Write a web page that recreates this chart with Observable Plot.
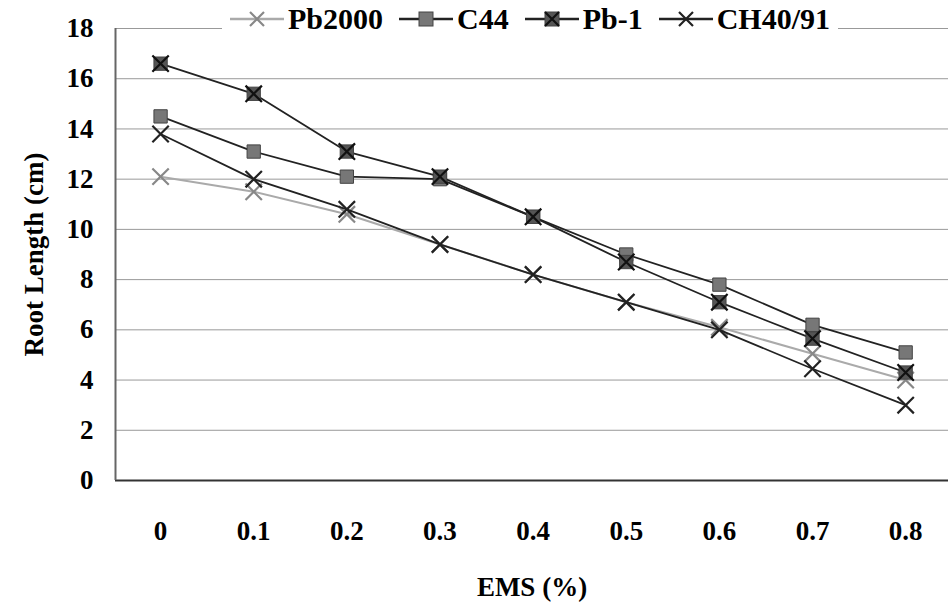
<!DOCTYPE html>
<html><head><meta charset="utf-8">
<script src="https://cdn.jsdelivr.net/npm/d3@7"></script>
<script src="https://cdn.jsdelivr.net/npm/@observablehq/plot@0.6"></script>
<style>
body{margin:0;background:#fff;font-family:"Liberation Serif","DejaVu Serif",serif;}
#wrap{position:relative;width:948px;height:607px;}
#chart svg text{font-family:"Liberation Serif","DejaVu Serif",serif !important;font-weight:bold;font-size:27px;}
#legend{position:absolute;top:2px;left:222px;background:#fff;font-weight:bold;font-size:30px;display:flex;gap:16px;align-items:center;padding:0 8px;font-family:"Liberation Serif","DejaVu Serif",serif;}
#legend span{display:flex;align-items:center;gap:4px;}
</style></head><body>
<div id="wrap"><div id="chart"></div>
<div id="legend"></div></div>
<script>
const ems = [0, 0.1, 0.2, 0.3, 0.4, 0.5, 0.6, 0.7, 0.8];
const pb2000 = [12.1, 11.5, 10.6, 9.4, 8.2, 7.1, 6.1, 5.05, 4.0];
const c44 = [14.5, 13.1, 12.1, 12.0, 10.5, 9.0, 7.8, 6.2, 5.1];
const pb1 = [16.6, 15.4, 13.1, 12.1, 10.5, 8.7, 7.1, 5.65, 4.3];
const ch4091 = [13.8, 12.0, 10.8, 9.4, 8.2, 7.1, 6.0, 4.45, 3.0];
const yTicks = [0, 2, 4, 6, 8, 10, 12, 14, 16, 18];

const series = [
  {name: "Pb2000", values: pb2000, line: "#aaa", sq: null, x: "#888"},
  {name: "C44", values: c44, line: "#222", sq: "#777", x: null},
  {name: "Pb-1", values: pb1, line: "#222", sq: "#555", x: "#111"},
  {name: "CH40/91", values: ch4091, line: "#222", sq: null, x: "#222"}
];

const marks = [
  Plot.ruleY(yTicks.slice(1), {stroke: "#999", strokeWidth: 1}),
  Plot.ruleY([0], {stroke: "#333", strokeWidth: 2}),
  Plot.ruleX([-0.0484], {stroke: "#666", strokeWidth: 2})
];
for (const s of series) {
  const data = ems.map((e, i) => ({ems: e, v: s.values[i]}));
  marks.push(Plot.line(data, {x: "ems", y: "v", stroke: s.line, strokeWidth: s.name === "Pb2000" ? 2 : 1.8}));
  if (s.sq) marks.push(Plot.dot(data, {x: "ems", y: "v", symbol: "square", fill: s.sq, r: 7.5, stroke: "#444", strokeWidth: 1}));
  if (s.x) marks.push(Plot.dot(data, {x: "ems", y: "v", symbol: "times", stroke: s.x, r: 7.5, strokeWidth: 2.2}));
}

const chart = Plot.plot({
  width: 948, height: 607,
  marginLeft: 115, marginRight: 0, marginTop: 28, marginBottom: 127,
  style: {background: "#fff"},
  x: {domain: [-0.0484, 0.846], ticks: ems, tickFormat: d => String(d), tickSize: 0, tickPadding: 40, label: "EMS (%)", labelAnchor: "center", labelOffset: 115, labelArrow: "none"},
  y: {domain: [0, 18], ticks: yTicks, tickSize: 0, tickPadding: 22, label: "Root Length (cm)", labelAnchor: "center", labelOffset: 92, labelArrow: "none"},
  marks
});
d3.select("#chart").append(() => chart);

const leg = d3.select("#legend");
for (const s of series) {
  const sp = leg.append("span");
  const svg = sp.append("svg").attr("width", 54).attr("height", 20);
  svg.append("line").attr("x1", 0).attr("x2", 54).attr("y1", 10).attr("y2", 10).attr("stroke", s.line).attr("stroke-width", 2.5);
  if (s.sq) svg.append("rect").attr("x", 20).attr("y", 3).attr("width", 14).attr("height", 14).attr("fill", s.sq).attr("stroke", "#444");
  if (s.x) svg.append("path").attr("d", "M20,3L34,17M34,3L20,17").attr("stroke", s.x).attr("stroke-width", 2.2);
  sp.append("span").text(s.name);
}
</script></body></html>
